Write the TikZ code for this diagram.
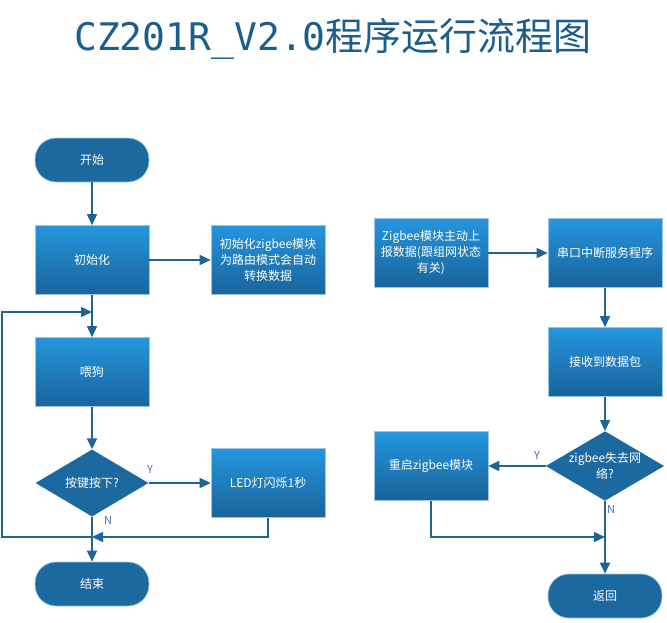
\documentclass[tikz,border=0pt]{standalone}
\usepackage{fontspec}
\setmainfont{Noto Sans CJK SC}
\newfontfamily\titlemono{DejaVu Sans Mono}
\usepackage{tikz}
\usetikzlibrary{arrows.meta}
\usetikzlibrary{calc}
\usetikzlibrary{arrows,shapes}
\usetikzlibrary{positioning}

\definecolor{flowline}{HTML}{1F6496}
\definecolor{termfill}{HTML}{1C69A0}
\definecolor{boxtop}{HTML}{2596DE}
\definecolor{boxbot}{HTML}{19639A}
\definecolor{boxedge}{HTML}{9CC6E6}
\definecolor{titleblue}{HTML}{1B5E8E}
\definecolor{branchtext}{HTML}{4A6FA8}

\tikzset{
    procbox/.style={draw=boxedge, line width=0.6pt, top color=boxtop, bottom color=boxbot,
        minimum width=114pt, minimum height=69pt, text width=110pt, align=center,
        text=white, font=\fontsize{12}{16}\selectfont, inner sep=1pt},
    termbox/.style={draw=boxedge, line width=0.6pt, fill=termfill, rounded corners=21pt,
        minimum width=114pt, minimum height=44pt, text=white, font=\fontsize{12}{16}\selectfont},
    decision/.style={diamond, fill=termfill, aspect=1.7, inner sep=0pt,
        minimum width=113pt, minimum height=67pt, align=center,
        text=white, font=\fontsize{12}{16}\selectfont},
    flow/.style={draw=flowline, line width=1.5pt, -{Triangle[length=11pt,width=10pt]}},
    branch/.style={text=branchtext, font=\fontsize{11}{13}\selectfont, inner sep=0pt}
}

\begin{document}
\begin{tikzpicture}[x=1pt, y=-1pt]
            \useasboundingbox (0,0) rectangle (667,622);

            \draw (333,39) node[text=titleblue, font=\fontsize{38}{40}\selectfont] (title) {{\titlemono CZ201R\_V2.0}程序运行流程图};

            \draw (92,160) node[termbox]                  (start) {开始};
            \draw (92,260) node[procbox]                  (init) {初始化};
            \draw (268,260) node[procbox]                 (initzb) {初始化zigbee模块\\为路由模式会自动\\转换数据};
            \draw (92,372) node[procbox]                  (feed) {喂狗};
            \draw (92,483) node[decision]                 (keydown) {按键按下?};
            \draw (268,483) node[procbox]                 (ledblink) {LED灯闪烁1秒};
            \draw (92,584) node[termbox]                  (finish) {结束};

            \coordinate (merge) at (92,537);
            \coordinate (loopleft) at (2,537);
            \coordinate (loopback) at (92,312);

            \draw[flow] (start) -- (init);
            \draw[flow] (init) -- (initzb);
            \draw[flow] (init) -- (feed);
            \draw[flow] (feed) -- (keydown);
            \draw[flow] (keydown) -- (ledblink);
            \draw[flow] (keydown) -- (finish);
            \draw[flow] (ledblink.south) |- (merge);
            \draw[flow] (merge) -- (loopleft) |- (loopback);
            \draw (150,469) node[branch] (keyyes) {Y};
            \draw (108,520) node[branch] (keyno) {N};

            \draw (431,253) node[procbox]                 (report) {Zigbee模块主动上\\报数据(跟组网状态\\有关)};
            \draw (605,253) node[procbox]                 (uart) {串口中断服务程序};
            \draw (605,362) node[procbox]                 (packet) {接收到数据包};
            \draw (605,466) node[decision]                (netlost) {zigbee失去网\\络?};
            \draw (431,466) node[procbox]                 (restart) {重启zigbee模块};
            \draw (605,596) node[termbox]                 (goback) {返回};

            \coordinate (rmerge) at (605,537);

            \draw[flow] (report) -- (uart);
            \draw[flow] (uart) -- (packet);
            \draw[flow] (packet) -- (netlost);
            \draw[flow] (netlost) -- (restart);
            \draw[flow] (netlost) -- (goback);
            \draw[flow] (restart.south) |- (rmerge);
            \draw (537,455) node[branch] (lostyes) {Y};
            \draw (611,509) node[branch] (lostno) {N};

            \end{tikzpicture}
\end{document}
